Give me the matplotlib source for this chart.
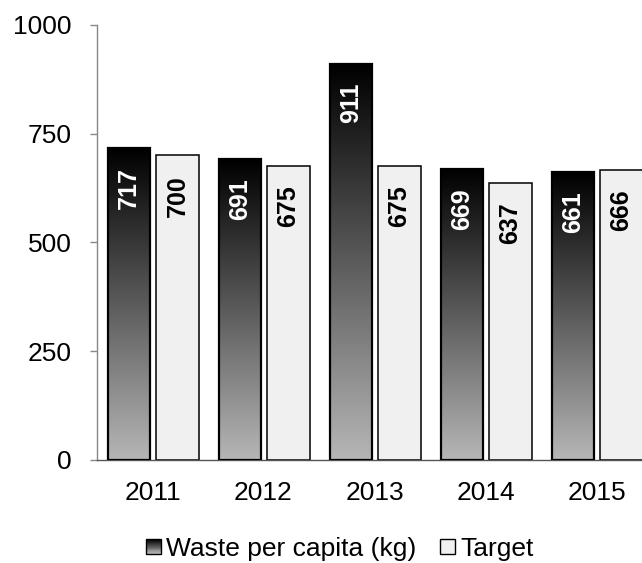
import matplotlib
matplotlib.use('Agg')
import matplotlib.pyplot as plt
import numpy as np
from matplotlib.colors import LinearSegmentedColormap
from matplotlib.legend_handler import HandlerBase
from matplotlib.patches import Rectangle

plt.rcParams['font.family'] = ['Liberation Sans', 'DejaVu Sans']

years = ['2011', '2012', '2013', '2014', '2015']
waste = [717, 691, 911, 669, 661]
target = [700, 675, 675, 637, 666]
y_ticks = [0, 250, 500, 750, 1000]

# black at the top of each bar fading to light gray at the base
grad_cmap = LinearSegmentedColormap.from_list('waste_grad', ['#b6b6b6', '#000000'])
target_color = '#f0f0f0'


class GradientHandler(HandlerBase):
    def create_artists(self, legend, orig_handle, xdescent, ydescent, width, height, fontsize, trans):
        n = 16
        side = height
        x0 = -xdescent + (width - side) / 2
        y0 = -ydescent
        arts = []
        for k in range(n):
            r = Rectangle((x0, y0 + side * k / n), side, side / n + 0.05,
                          facecolor=grad_cmap(k / (n - 1)), edgecolor='none', transform=trans)
            arts.append(r)
        arts.append(Rectangle((x0, y0), side, side, facecolor='none', edgecolor='black',
                              linewidth=1.0, transform=trans))
        return arts


class SquareHandler(HandlerBase):
    def create_artists(self, legend, orig_handle, xdescent, ydescent, width, height, fontsize, trans):
        side = height
        x0 = -xdescent + (width - side) / 2
        return [Rectangle((x0, -ydescent), side, side, facecolor=target_color, edgecolor='black',
                          linewidth=1.0, transform=trans)]


fig = plt.figure(figsize=(6.42, 5.63), dpi=100)
ax = fig.add_axes([0.151, 0.183, 0.8645, 0.773])

x = np.arange(len(years))
w = 0.38
off_w = -0.21
off_t = 0.225

grad = np.linspace(0, 1, 256).reshape(-1, 1)
for i, v in enumerate(waste):
    xc = x[i] + off_w
    ax.imshow(grad, cmap=grad_cmap, origin='lower', aspect='auto',
              extent=[xc - w / 2, xc + w / 2, 0, v], zorder=2)
    ax.add_patch(Rectangle((xc - w / 2, 0), w, v, facecolor='none', edgecolor='black',
                           linewidth=1.6, zorder=3))
    ax.annotate(str(v), (xc, v), xytext=(0, -14), textcoords='offset points',
                rotation=90, ha='center', va='top', color='white',
                fontsize=18, fontweight='bold', zorder=4)

bars_t = ax.bar(x + off_t, target, w, color=target_color, edgecolor='black',
                linewidth=1.1, zorder=2)
for i, v in enumerate(target):
    ax.annotate(str(v), (x[i] + off_t, v), xytext=(0, -14), textcoords='offset points',
                rotation=90, ha='center', va='top', color='black',
                fontsize=18, fontweight='bold', zorder=4)

ax.set_xlim(-0.5, len(years) - 0.5)
ax.set_ylim(0, 1000)
ax.set_yticks(y_ticks)
ax.set_yticklabels([str(t) for t in y_ticks], fontsize=19)
ax.set_xticks(x)
ax.set_xticklabels(years, fontsize=19)
ax.tick_params(axis='x', length=0, pad=15)
ax.tick_params(axis='y', length=5, width=1.0, color='#888888', pad=13)

for s in ['top', 'right']:
    ax.spines[s].set_visible(False)
ax.spines['left'].set_color('#888888')
ax.spines['bottom'].set_color('#555555')
ax.spines['left'].set_linewidth(1.0)
ax.spines['bottom'].set_linewidth(1.0)

h_waste = Rectangle((0, 0), 1, 1)
h_target = Rectangle((0, 0), 1, 1)
fig.legend([h_waste, h_target], ['Waste per capita (kg)', 'Target'],
           handler_map={h_waste: GradientHandler(), h_target: SquareHandler()},
           loc='center', bbox_to_anchor=(340 / 642, 1 - 549 / 563), ncol=2, frameon=False,
           fontsize=19, handlelength=0.55, handleheight=0.5, handletextpad=0.2,
           columnspacing=0.9)

plt.savefig('out.png', dpi=100)
plt.close()
